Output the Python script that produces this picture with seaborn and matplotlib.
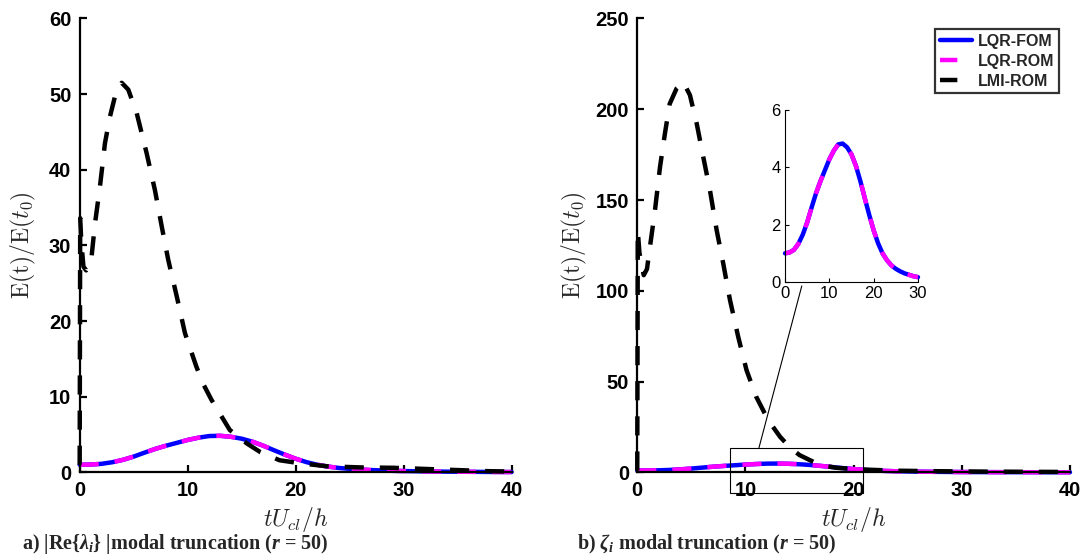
import matplotlib
matplotlib.use("Agg")
import matplotlib.pyplot as plt
import seaborn as sns
from matplotlib.lines import Line2D
from matplotlib.patches import Rectangle, ConnectionPatch

# ----------------------------------------------------------------------
# Data
# ----------------------------------------------------------------------
# LQR energy growth, same controller in both panels
lqr_t = [0, 1, 2, 3, 4, 5, 6, 7, 8, 9, 10, 11, 12, 13, 14, 15, 16, 17, 18, 19,
         20, 21, 22, 23, 24, 25, 26, 27, 28, 29, 30, 32, 34, 36, 38, 40]
lqr_fom = [1.00, 1.03, 1.12, 1.33, 1.65, 2.08, 2.60, 3.10, 3.52, 3.90, 4.28, 4.58,
           4.80, 4.83, 4.70, 4.45, 4.05, 3.52, 2.92, 2.34, 1.80, 1.35, 1.00, 0.76,
           0.58, 0.46, 0.37, 0.30, 0.25, 0.20, 0.17, 0.12, 0.09, 0.07, 0.05, 0.04]
lqr_rom = [1.00, 1.03, 1.12, 1.33, 1.65, 2.08, 2.60, 3.10, 3.52, 3.90, 4.28, 4.58,
           4.80, 4.83, 4.70, 4.45, 4.05, 3.52, 2.92, 2.34, 1.80, 1.35, 1.00, 0.76,
           0.58, 0.46, 0.37, 0.30, 0.25, 0.20, 0.17, 0.12, 0.09, 0.07, 0.05, 0.04]

# LMI-ROM, panel a) |Re{lambda_i}| truncation
lmi_a_t = [0, 0.05, 0.15, 0.35, 0.6, 0.9, 1.1, 1.42, 1.88, 2.34, 2.8, 3.27, 3.89,
           4.5, 5.28, 6.2, 6.97, 7.6, 8.2, 9.0, 9.75, 10.8, 11.4, 12.2, 13.9,
           15.5, 16.7, 18.5, 20.4, 22.9, 26, 29, 32, 35, 38, 40]
lmi_a = [1.0, 33.6, 30.5, 27.2, 26.7, 27.4, 28.5, 32.9, 37.8, 43.5, 47.0, 49.7,
         51.5, 50.6, 47.5, 42.2, 37.3, 32.5, 28.1, 23.2, 18.4, 14.0, 11.8, 9.6,
         5.6, 3.8, 2.7, 1.6, 1.2, 0.8, 0.65, 0.6, 0.45, 0.3, 0.15, 0.1]

# LMI-ROM, panel b) zeta_i truncation
lmi_b_t = [0, 0.05, 0.2, 0.6, 0.9, 1.17, 1.64, 2.1, 2.56, 3.0, 3.64, 4.25, 4.87,
           5.5, 6.1, 6.72, 7.34, 7.95, 8.57, 9.33, 10.1, 11.0, 12.1, 13.2, 14.1,
           15.0, 16.9, 18.4, 20.6, 24, 28, 32, 36, 40]
lmi_b = [1.0, 133.0, 121.0, 108.6, 112.0, 124.0, 144.4, 168.0, 186.7, 203.0,
         211.5, 215.0, 207.8, 192.0, 173.8, 155.4, 133.4, 115.0, 95.0, 74.7, 56.3,
         41.6, 28.8, 19.6, 13.8, 9.5, 4.0, 2.5, 1.6, 0.9, 0.6, 0.4, 0.3, 0.2]

x_ticks = [0, 10, 20, 30, 40]
y_ticks_a = [0, 10, 20, 30, 40, 50, 60]
y_ticks_b = [0, 50, 100, 150, 200, 250]
inset_x_ticks = [0, 10, 20, 30]
inset_y_ticks = [0, 2, 4, 6]

BLUE = "#0000ff"
MAGENTA = "#ff00ff"
DASH = (0, (4.3, 3.6))
LW = 3.2

sns.set_theme(style="white")
plt.rcParams.update({
    "font.family": ["Liberation Sans", "DejaVu Sans"],
    "mathtext.fontset": "custom",
    "mathtext.rm": "Liberation Serif:bold",
    "mathtext.it": "Liberation Serif:italic:bold",
    "mathtext.bf": "Liberation Serif:bold",
    "axes.edgecolor": "black",
    "axes.linewidth": 1.6,
})


def draw_curves(ax, lmi_t, lmi_v, n=None):
    t = lqr_t[:n]
    sns.lineplot(x=t, y=lqr_fom[:n], ax=ax, color=BLUE, lw=LW, clip_on=False)
    sns.lineplot(x=t, y=lqr_rom[:n], ax=ax, color=MAGENTA, lw=LW,
                 linestyle=DASH, clip_on=False)
    if lmi_t is not None:
        sns.lineplot(x=lmi_t, y=lmi_v, ax=ax, color="black", lw=LW,
                     linestyle=DASH, clip_on=False)


def style_main(ax, yticks, label_x):
    ax.set_xlim(0, 40)
    ax.set_ylim(0, yticks[-1])
    ax.set_xticks(x_ticks)
    ax.set_yticks(yticks)
    sns.despine(ax=ax)
    ax.tick_params(bottom=True, left=True, direction="in", length=5, width=1.6,
                   colors="black", labelsize=14.5, pad=6)
    for lab in ax.get_xticklabels() + ax.get_yticklabels():
        lab.set_fontweight("bold")
    ax.set_xlabel(r"$tU_{cl}/h$", fontsize=17, math_fontfamily="cm", va="center")
    ax.xaxis.set_label_coords(0.5, -0.104)
    ax.set_ylabel(r"$\mathrm{E(t)/E(}t_0\mathrm{)}$", fontsize=17,
                  math_fontfamily="cm", va="center")
    ax.yaxis.set_label_coords(label_x, 0.5)


fig = plt.figure(figsize=(10.81, 5.57), dpi=100)
ax1 = fig.add_axes([0.0737, 0.152, 0.3996, 0.8148])
ax2 = fig.add_axes([0.5895, 0.152, 0.4003, 0.8148])

# Panel a
draw_curves(ax1, lmi_a_t, lmi_a)
style_main(ax1, y_ticks_a, -0.130)

# Panel b
draw_curves(ax2, lmi_b_t, lmi_b)
style_main(ax2, y_ticks_b, -0.146)

handles = [
    Line2D([], [], color=BLUE, lw=LW),
    Line2D([], [], color=MAGENTA, lw=LW, linestyle=(0, (3.9, 12))),
    Line2D([], [], color="black", lw=LW, linestyle=(0, (3.9, 12))),
]
leg = ax2.legend(handles, ["LQR-FOM", "LQR-ROM", "LMI-ROM"], loc="upper right",
                 bbox_to_anchor=(0.9746, 0.9765), borderaxespad=0,
                 prop={"weight": "bold", "size": 11.5}, handlelength=2.0,
                 handletextpad=0.35, labelspacing=0.3, borderpad=0.3,
                 frameon=True, fancybox=False, edgecolor="black")
leg.get_frame().set_linewidth(1.6)

# Zoom box and inset on panel b
ax2.add_patch(Rectangle((8.6, -11.4), 12.3, 24.9, fill=False, lw=0.8,
                        ec="black", clip_on=False, zorder=5))
ax_in = fig.add_axes([0.7262, 0.4937, 0.1230, 0.3088])
n30 = lqr_t.index(30) + 1
draw_curves(ax_in, None, None, n=n30)
ax_in.set_xlim(0, 30)
ax_in.set_ylim(0, 6)
ax_in.set_xticks(inset_x_ticks)
ax_in.set_yticks(inset_y_ticks)
sns.despine(ax=ax_in)
for s in ["left", "bottom"]:
    ax_in.spines[s].set_linewidth(0.8)
ax_in.tick_params(bottom=True, left=True, direction="in", length=3, width=0.8,
                  colors="black", labelsize=12, pad=3)
ax_in.set_facecolor("none")

con = ConnectionPatch(xyA=(11.25, 13.5), coordsA=ax2.transData,
                      xyB=(0.126, -0.023), coordsB=ax_in.transAxes,
                      lw=0.8, color="black")
fig.add_artist(con)

# Panel captions
fig.text(22 / 1081, 1 - 544 / 557,
         r"a) |Re{$\lambda_i$} |modal truncation ($r$ = 50)",
         family="Liberation Serif", weight="bold", fontsize=14.5, va="center")
fig.text(577 / 1081, 1 - 544 / 557,
         r"b) $\zeta_i$ modal truncation ($r$ = 50)",
         family="Liberation Serif", weight="bold", fontsize=14.5, va="center")

fig.savefig("out.png", dpi=100)
